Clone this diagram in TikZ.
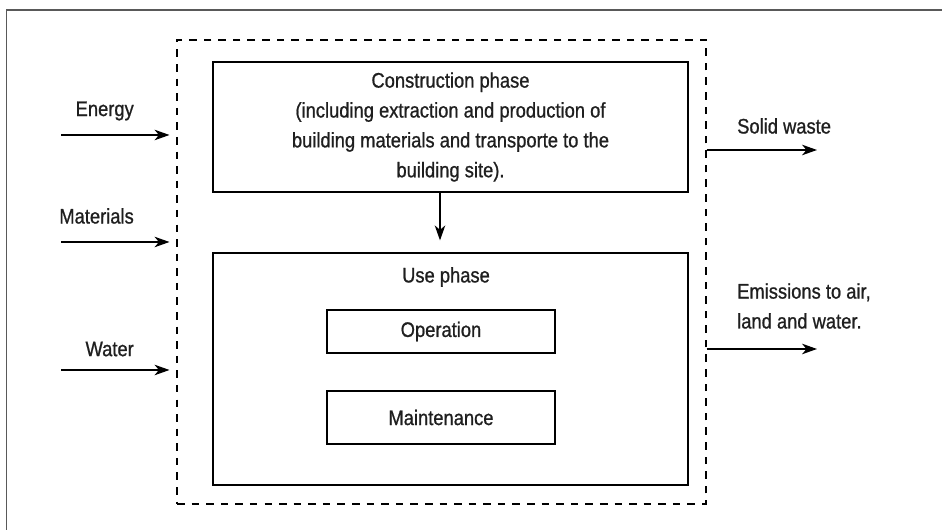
\documentclass[tikz,border=0pt]{standalone}
\usepackage{fontspec}
\setmainfont[FakeStretch=0.87, FakeBold=0.9]{Liberation Sans}
\usetikzlibrary{arrows.meta,positioning}

\begin{document}
\begin{tikzpicture}[
    font=\fontsize{12}{17}\selectfont, text=black!88,
    box/.style={draw, line width=0.7pt, minimum width=9.5cm, align=center},
    stage/.style={draw, line width=0.7pt, minimum width=4.56cm},
    flow/.style={line width=0.7pt, -{Stealth[length=8.5pt, width=6pt, inset=2.5pt]}}
  ]
	\useasboundingbox (0, 0) rectangle (18.84, 10.6);
	\draw [line width=1pt, black!65] (0.13, 0) -- (0.13, 10.4) -- (18.84, 10.4);

	\node [draw, dash pattern=on 4.3pt off 4pt, line width=0.6pt, minimum width=10.58cm, minimum height=9.28cm] (system) at (8.83, 5.16) {};

	\node [box, minimum height=2.6cm] (construction) at (9.01, 8.06) {Construction phase\\(including extraction and production of\\building materials and transporte to the\\building site).};
	\node [box, minimum height=4.64cm] (use) at (9.01, 3.22) {};
	\node (usephase) at (8.92, 5.06) {Use phase};
	\node [stage, minimum height=0.86cm] (operation) at (8.82, 3.97) {Operation};
	\node [stage, minimum height=1.06cm] (maintenance) at (8.82, 2.25) {Maintenance};

	\draw [flow, shorten >=0.24cm] ([xshift=-0.21cm] construction.south) -- ([xshift=-0.21cm] use.north);

	\node [anchor=east] (energy) at (2.8, 8.38) {Energy};
	\node [anchor=east] (materials) at (2.8, 6.28) {Materials};
	\node [anchor=east] (water) at (2.8, 3.62) {Water};

	\coordinate (energyin) at (1.22, 7.9);
	\coordinate (materialsin) at (1.22, 5.76);
	\coordinate (waterin) at (1.22, 3.2);

	\draw [flow, shorten >=0.14cm] (energyin) -- (energyin -| system.west);
	\draw [flow, shorten >=0.14cm] (materialsin) -- (materialsin -| system.west);
	\draw [flow, shorten >=0.14cm] (waterin) -- (waterin -| system.west);

	\node [anchor=west] (waste) at (14.62, 8.08) {Solid waste};
	\node [anchor=west, align=left] (emissions) at (14.62, 4.48) {Emissions to air,\\land and water.};

	\coordinate (wasteout) at (16.34, 7.6);
	\coordinate (emissionsout) at (16.34, 3.62);

	\draw [flow] (wasteout -| system.east) -- (wasteout);
	\draw [flow] (emissionsout -| system.east) -- (emissionsout);
\end{tikzpicture}
\end{document}
